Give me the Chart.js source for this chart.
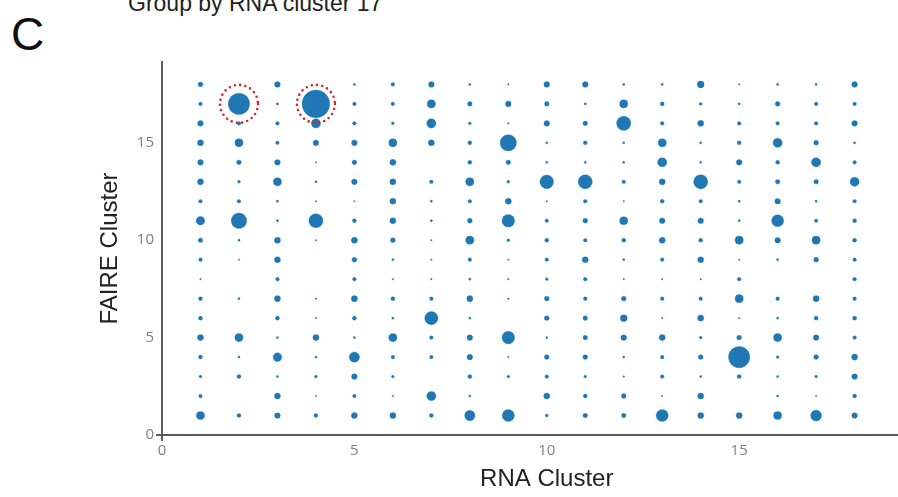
<!DOCTYPE html>
<html>
<head>
<meta charset="utf-8">
<title>Group by RNA cluster 17</title>
<script src="https://cdn.jsdelivr.net/npm/chart.js@4.4.1/dist/chart.umd.min.js"></script>
<style>
  html, body { margin: 0; padding: 0; background: #fff; }
  body { width: 898px; height: 497px; overflow: hidden; position: relative; }
  #wrap { position: absolute; left: 0; top: 0; width: 946px; height: 497px; }
  .panel { position: absolute; left: 11px; top: 11px; font: 46px/46px "Liberation Sans", Arial, sans-serif; color: #111; }
  .group { position: absolute; left: 128px; top: -8px; font: 23px/23px "Liberation Sans", Arial, sans-serif; color: #222; white-space: nowrap; }
</style>
</head>
<body>
<div class="panel">C</div>
<div class="group">Group by RNA cluster 17</div>
<div id="wrap"><canvas id="bubbleChart" width="946" height="497"></canvas></div>

<script>
// RNA clusters along x, FAIRE clusters along y (rows listed top to bottom)
const rnaClusters = [1, 2, 3, 4, 5, 6, 7, 8, 9, 10, 11, 12, 13, 14, 15, 16, 17, 18];
const faireClusters = [18, 17, 16, 15, 14, 13, 12, 11, 10, 9, 8, 7, 6, 5, 4, 3, 2, 1];

// overlap counts, one row per FAIRE cluster (same order as faireClusters)
const overlapCounts = [
  [9, 0, 12, 0, 2, 5, 12, 2, 1, 12, 12, 2, 2, 18, 1, 2, 2, 12],
  [5, 170, 2, 285, 5, 5, 25, 8, 12, 8, 2, 25, 6, 3, 2, 9, 5, 5],
  [12, 5, 5, 32, 5, 3, 32, 3, 1, 12, 8, 75, 5, 14, 5, 5, 5, 12],
  [14, 25, 5, 12, 12, 25, 14, 6, 100, 2, 6, 2, 25, 2, 6, 32, 9, 2],
  [12, 8, 12, 1, 8, 14, 0, 6, 8, 2, 2, 2, 32, 2, 12, 6, 32, 5],
  [14, 3, 25, 2, 12, 14, 5, 25, 3, 70, 75, 5, 14, 75, 5, 8, 8, 32],
  [5, 5, 2, 1, 1, 14, 2, 5, 14, 1, 5, 1, 6, 5, 2, 12, 2, 5],
  [28, 90, 2, 75, 6, 14, 2, 9, 60, 5, 9, 25, 12, 12, 2, 55, 5, 6],
  [8, 2, 14, 1, 14, 9, 1, 25, 3, 6, 5, 6, 14, 6, 25, 12, 25, 6],
  [5, 1, 14, 0, 9, 2, 1, 5, 1, 5, 14, 2, 5, 14, 1, 2, 9, 5],
  [1, 0, 5, 0, 5, 1, 1, 2, 1, 3, 5, 1, 1, 1, 5, 0, 0, 5],
  [6, 2, 14, 1, 14, 6, 5, 14, 1, 9, 5, 9, 5, 5, 25, 5, 14, 5],
  [6, 0, 6, 1, 6, 2, 65, 2, 0, 9, 8, 18, 1, 14, 1, 2, 6, 6],
  [14, 25, 2, 14, 2, 25, 5, 12, 60, 2, 8, 12, 14, 3, 9, 25, 12, 5],
  [6, 2, 28, 2, 40, 5, 5, 12, 1, 9, 9, 2, 5, 9, 170, 3, 9, 14],
  [3, 6, 2, 3, 12, 3, 0, 6, 3, 5, 3, 1, 5, 2, 6, 2, 3, 12],
  [5, 0, 14, 1, 5, 1, 32, 2, 0, 14, 6, 9, 1, 14, 0, 2, 1, 6],
  [25, 6, 12, 6, 14, 14, 6, 40, 55, 3, 8, 8, 55, 14, 14, 25, 45, 12]
];

// pairs circled in red: [RNA cluster, FAIRE cluster]
const highlighted = [[2, 17], [4, 17]];

const tickSteps = [0, 5, 10, 15, 20];

const blue = 'rgb(31, 119, 180)';
const axisGrey = '#5a5a5a';

function bubbleRadius(count) {
    return 0.82 * Math.sqrt(count);
}

const points = [];
faireClusters.forEach(function (fc, row) {
    rnaClusters.forEach(function (rc, col) {
        const n = overlapCounts[row][col];
        if (n > 0) points.push({ x: rc, y: fc, r: bubbleRadius(n), n: n });
    });
});

// dotted red rings around the highlighted pairs
const ringPlugin = {
    id: 'rings',
    afterDatasetsDraw(chart) {
        const ctx = chart.ctx;
        const xs = chart.scales.x, ys = chart.scales.y;
        ctx.save();
        ctx.strokeStyle = 'rgb(214, 39, 48)';
        ctx.lineWidth = 2.6;
        ctx.lineCap = 'round';
        ctx.setLineDash([0, 5.3]);
        highlighted.forEach(function (p) {
            ctx.beginPath();
            ctx.arc(xs.getPixelForValue(p[0]), ys.getPixelForValue(p[1]), 19, 0, Math.PI * 2);
            ctx.stroke();
        });
        ctx.restore();
    }
};

function onlyFives(scale) {
    scale.ticks = scale.ticks.filter(function (t) { return tickSteps.indexOf(t.value) !== -1; });
}

function zeroTick(ctx) {
    return ctx.tick && ctx.tick.value === 0 ? axisGrey : 'rgba(0,0,0,0)';
}

const tickFont = { family: '"Open Sans", "DejaVu Sans", sans-serif', size: 15 };
const titleFont = { family: '"Liberation Sans", Arial, sans-serif', size: 24 };

new Chart(document.getElementById('bubbleChart'), {
    type: 'bubble',
    data: {
        datasets: [{
            label: 'RNA vs FAIRE',
            data: points,
            backgroundColor: blue,
            borderColor: 'rgba(31, 119, 180, 0.55)',
            borderWidth: 0.6,
            hoverRadius: 0
        }]
    },
    options: {
        responsive: false,
        animation: false,
        layout: { padding: { top: 62, left: 0, right: 4, bottom: 0 } },
        plugins: {
            legend: { display: false },
            tooltip: { enabled: false }
        },
        scales: {
            x: {
                type: 'linear',
                min: 0,
                max: 20,
                afterFit: function (s) { s.height = 62; },
                afterBuildTicks: onlyFives,
                border: { color: axisGrey, width: 2 },
                grid: { drawOnChartArea: false, color: zeroTick, lineWidth: 2, tickLength: 6 },
                ticks: { stepSize: 5, color: '#808080', font: tickFont, padding: 1, maxRotation: 0 },
                title: { display: true, text: 'RNA Cluster', color: '#222', font: titleFont, padding: { top: 0, bottom: 3 } }
            },
            y: {
                type: 'linear',
                min: 0,
                max: 19.15,
                afterFit: function (s) { s.width = 162; },
                afterBuildTicks: onlyFives,
                border: { color: axisGrey, width: 2 },
                grid: { drawOnChartArea: false, color: zeroTick, lineWidth: 2, tickLength: 6 },
                ticks: { stepSize: 5, color: '#808080', font: tickFont, padding: 2 },
                title: { display: true, text: 'FAIRE Cluster', color: '#222', font: titleFont, padding: { top: 96, bottom: 0 } }
            }
        }
    },
    plugins: [ringPlugin]
});
</script>
</body>
</html>
